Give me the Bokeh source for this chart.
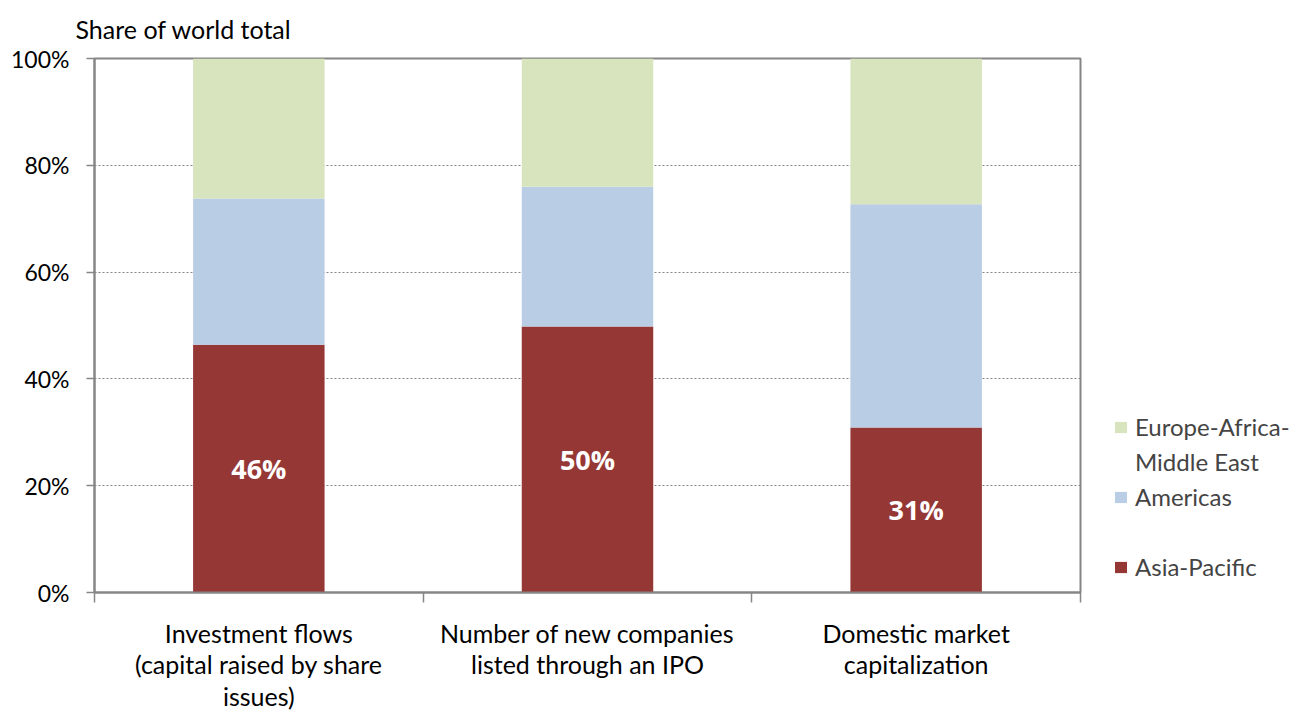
from bokeh.plotting import figure
from bokeh.models import (Range1d, FixedTicker, Legend, LegendItem, ColumnDataSource, LabelSet)
from bokeh.core.properties import value
from bokeh.embed import file_html
from bokeh.resources import INLINE

categories = ["Investment flows\n(capital raised by share\nissues)",
              "Number of new companies\nlisted through an IPO",
              "Domestic market\ncapitalization"]
asia_pacific = [46.4, 49.8, 30.9]
americas = [27.4, 26.2, 41.8]
europe_africa_me = [26.2, 24.0, 27.3]
bar_labels = ["46%", "50%", "31%"]
legend_lines = ["Europe-Africa-", "Middle East", "Americas", " ", "Asia-Pacific"]
y_ticks = [0, 20, 40, 60, 80, 100]
y_tick_labels = ["0%", "20%", "40%", "60%", "80%", "100%"]

colors = ["#953735", "#B9CDE5", "#D7E4BD"]
FONT = "Lato"
GRAY = "#868686"

xs = [i + 0.5 for i in range(len(categories))]
src = ColumnDataSource(dict(x=xs, asia=asia_pacific, amer=americas, eur=europe_africa_me,
                            lab=bar_labels, ly=[v / 2 for v in asia_pacific]))

p = figure(frame_width=986, frame_height=534, output_backend="svg", toolbar_location=None,
           x_range=Range1d(0, 3), y_range=Range1d(0, 100),
           min_border_left=94, min_border_right=212, min_border_top=58, min_border_bottom=118)

rs = p.vbar_stack(["asia", "amer", "eur"], x="x", width=0.4, source=src,
                  color=colors, line_color=None)
blank = p.vbar(x=[], top=[], width=0.4, fill_alpha=0, line_alpha=0)

p.add_layout(LabelSet(x="x", y="ly", text="lab", source=src, text_align="center",
                      text_baseline="middle", text_color="white", text_font=value("Open Sans"),
                      text_font_size="27px", text_font_style="bold"))

p.xgrid.visible = False
p.ygrid.ticker = FixedTicker(ticks=y_ticks)
p.ygrid.grid_line_color = GRAY
p.ygrid.grid_line_dash = "2 2"
p.ygrid.grid_line_width = 1

ya = p.yaxis[0]
ya.ticker = FixedTicker(ticks=y_ticks)
ya.major_label_overrides = {t: l for t, l in zip(y_ticks, y_tick_labels)}
ya.axis_line_color = GRAY
ya.axis_line_width = 2
ya.major_tick_line_color = GRAY
ya.major_tick_line_width = 1.5
ya.major_tick_out = 8
ya.major_tick_in = 0
ya.minor_tick_line_color = None
ya.major_label_text_font = FONT
ya.major_label_text_font_size = "23px"
ya.major_label_text_color = "black"
ya.major_label_standoff = 17

xa = p.xaxis[0]
xa.ticker = FixedTicker(ticks=xs, minor_ticks=[0, 1, 2, 3])
xa.major_label_overrides = {x: c for x, c in zip(xs, categories)}
xa.axis_line_color = GRAY
xa.axis_line_width = 2
xa.major_tick_line_color = None
xa.major_tick_out = 0
xa.major_tick_in = 0
xa.minor_tick_line_color = GRAY
xa.minor_tick_line_width = 1.5
xa.minor_tick_out = 10
xa.minor_tick_in = 0
xa.major_label_text_font = FONT
xa.major_label_text_font_size = "25px"
xa.major_label_text_color = "black"
xa.major_label_text_line_height = 1.05
xa.major_label_standoff = 15

p.outline_line_color = GRAY
p.outline_line_width = 2

p.title.text = "Share of world total"
p.title.text_font = FONT
p.title.text_font_size = "25px"
p.title.text_font_style = "normal"
p.title.text_color = "black"
p.title.align = "left"
p.title.vertical_align = "top"
p.title.offset = -19
p.title.standoff = 25

legend_renderers = [rs[2], blank, rs[1], blank, rs[0]]
legend = Legend(items=[LegendItem(label=l, renderers=[r]) for l, r in zip(legend_lines, legend_renderers)],
                location=(33, 8), glyph_width=15, glyph_height=14, label_standoff=7,
                padding=0, margin=0, spacing=0, border_line_color=None, background_fill_alpha=0,
                label_text_font=FONT, label_text_font_size="24px", label_height=35)
p.add_layout(legend, "right")

open("out.html", "w").write(file_html(p, INLINE))
